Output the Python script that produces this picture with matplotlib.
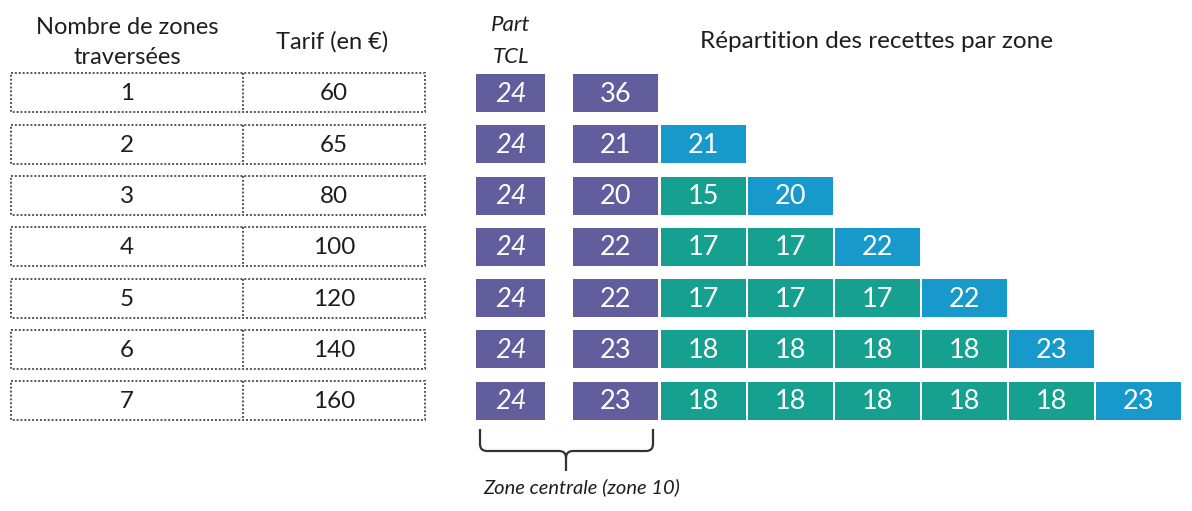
import matplotlib
matplotlib.use("Agg")
import matplotlib.pyplot as plt
from matplotlib.patches import Rectangle, PathPatch
from matplotlib.path import Path

plt.rcParams["font.family"] = ["Lato", "DejaVu Sans"]

zones = [1, 2, 3, 4, 5, 6, 7]
tarifs = [60, 65, 80, 100, 120, 140, 160]
part_tcl = [24, 24, 24, 24, 24, 24, 24]
zone_centrale = [36, 21, 20, 22, 22, 23, 23]
zones_inter = [[], [], [15], [17, 17], [17, 17, 17], [18, 18, 18, 18], [18, 18, 18, 18, 18]]
zone_ext = [None, 21, 20, 22, 22, 23, 23]

VIOLET = "#625d9d"
VERT = "#15a08f"
BLEU = "#1799cb"
TXT = "#1e1e1e"

Y0, PAS, H = 93, 51.3, 38


def cellule(ax, x, yc, w, val, color, italic=False):
    ax.add_patch(Rectangle((x, yc - H / 2), w, H, fc=color, ec="none"))
    ax.text(x + w / 2, yc + 1, str(val), ha="center", va="center", fontsize=19.5,
            color="white", style="italic" if italic else "normal")


fig = plt.figure(figsize=(11.92, 5.11), dpi=100)
ax = fig.add_axes([0, 0, 1, 1])
ax.set_xlim(0, 1192)
ax.set_ylim(511, 0)
ax.axis("off")

# en-tetes
ax.text(127, 27, "Nombre de zones", ha="center", va="center", fontsize=17, color=TXT)
ax.text(127, 57, "traversées", ha="center", va="center", fontsize=17, color=TXT)
ax.text(332, 42, "Tarif (en €)", ha="center", va="center", fontsize=17, color=TXT)
ax.text(511, 25, "Part", ha="center", va="center", fontsize=16, style="italic", color=TXT)
ax.text(511, 57, "TCL", ha="center", va="center", fontsize=16, style="italic", color=TXT)
ax.text(877, 42, "Répartition des recettes par zone", ha="center", va="center",
        fontsize=17.5, color=TXT)

for i, z in enumerate(zones):
    yc = Y0 + i * PAS
    # tableau a gauche, bordure pointillee
    ax.add_patch(Rectangle((11, yc - 19.5), 414, 39, fc="none", ec="#555",
                           lw=1.4, ls=(0, (1, 1))))
    ax.plot([243, 243], [yc - 19.5, yc + 19.5], color="#555", lw=1.4, ls=(0, (1, 1)))
    ax.text(127, yc + 1, str(z), ha="center", va="center", fontsize=17.5, color=TXT)
    ax.text(334, yc + 1, str(tarifs[i]), ha="center", va="center", fontsize=17.5, color=TXT)

    cellule(ax, 476, yc, 69, part_tcl[i], VIOLET, italic=True)
    cellule(ax, 573, yc, 85, zone_centrale[i], VIOLET)
    for j, v in enumerate(zones_inter[i]):
        cellule(ax, 661 + j * 87, yc, 85, v, VERT)
    if zone_ext[i] is not None:
        cellule(ax, 661 + len(zones_inter[i]) * 87, yc, 85, zone_ext[i], BLEU)

# accolade sous la zone centrale
xl, xr, xm = 480, 653, 566
yt, yb, ytip = 429, 451, 471
r = 7
verts = [(xl, yt), (xl, yb - r), (xl, yb), (xl + r, yb), (xm - r, yb), (xm, yb),
         (xm, yb + r), (xm, ytip)]
codes = [Path.MOVETO, Path.LINETO, Path.CURVE3, Path.CURVE3, Path.LINETO,
         Path.CURVE3, Path.CURVE3, Path.LINETO]
ax.add_patch(PathPatch(Path(verts, codes), fc="none", ec="#333", lw=1.6))
verts = [(xr, yt), (xr, yb - r), (xr, yb), (xr - r, yb), (xm + r, yb), (xm, yb), (xm, yb + r)]
codes = [Path.MOVETO, Path.LINETO, Path.CURVE3, Path.CURVE3, Path.LINETO,
         Path.CURVE3, Path.CURVE3]
ax.add_patch(PathPatch(Path(verts, codes), fc="none", ec="#333", lw=1.6))
ax.text(582, 487, "Zone centrale (zone 10)", ha="center", va="center", fontsize=14.5,
        style="italic", color=TXT)

plt.savefig("out.png", dpi=100)
plt.close()
